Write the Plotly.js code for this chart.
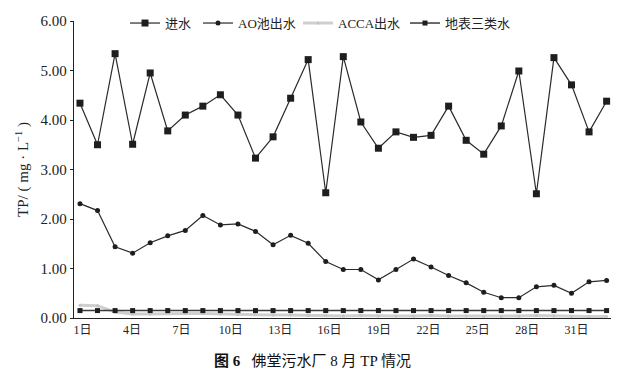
<!DOCTYPE html>
<html>
<head>
<meta charset="utf-8">
<script src="https://cdn.plot.ly/plotly-3.0.1.min.js"></script>
<style>html,body{margin:0;padding:0;background:#fff;}#chart{width:643px;height:376px;}</style>
</head>
<body>
<div id="chart"></div>
<script>
// Days of August (1..31)
const days = Array.from({length: 31}, (_, i) => i + 1);

// 进水 (influent TP, mg/L)
const influent = [4.34, 3.50, 5.34, 3.51, 4.95, 3.78, 4.10, 4.28, 4.51, 4.10, 3.23, 3.66, 4.44,
  5.22, 2.53, 5.28, 3.96, 3.43, 3.76, 3.65, 3.69, 4.28, 3.59, 3.31, 3.88, 4.99, 2.51, 5.26, 4.71, 3.76, 4.38];

// AO池出水
const aoEffluent = [2.31, 2.17, 1.44, 1.31, 1.52, 1.66, 1.77, 2.07, 1.88, 1.90, 1.75, 1.48, 1.67,
  1.51, 1.14, 0.98, 0.98, 0.77, 0.98, 1.19, 1.03, 0.86, 0.71, 0.52, 0.41, 0.41, 0.63, 0.66, 0.50, 0.73, 0.76];

// ACCA出水
const accaEffluent = [0.26, 0.25, 0.12, 0.08, 0.08, 0.09, 0.09, 0.09, 0.08, 0.07, 0.07, 0.06, 0.06,
  0.05, 0.05, 0.04, 0.05, 0.04, 0.04, 0.04, 0.05, 0.04, 0.04, 0.03, 0.03, 0.04, 0.05, 0.04, 0.03, 0.03, 0.03];

// 地表三类水 (surface water class III limit)
const surfaceIII = days.map(() => 0.15);

// x tick labels
const tickDays = [1, 4, 7, 10, 13, 16, 19, 22, 25, 28, 31];
const tickLabels = tickDays.map(d => d + '日');
const yTicks = [0, 1, 2, 3, 4, 5, 6];
const yTickLabels = ['0.00', '1.00', '2.00', '3.00', '4.00', '5.00', '6.00'];

const FONT = '"Liberation Serif", "Times New Roman", "Noto Sans CJK SC", serif';

const traces = [
  {x: days, y: influent, name: '进水', mode: 'lines+markers', legend: 'legend',
   line: {color: '#2a2a2a', width: 1.2}, marker: {symbol: 'square', size: 7, color: '#1e1e1e'}},
  {x: days, y: aoEffluent, name: 'AO池出水', mode: 'lines+markers', legend: 'legend2',
   line: {color: '#2a2a2a', width: 1.2}, marker: {symbol: 'circle', size: 5, color: '#1e1e1e'}},
  {x: days, y: accaEffluent, name: 'ACCA出水', mode: 'lines+markers', legend: 'legend3',
   line: {color: '#cfcfcf', width: 3}, marker: {symbol: 'circle', size: 3, color: '#c4c4c4'}},
  {x: days, y: surfaceIII, name: '地表三类水', mode: 'lines+markers', legend: 'legend4',
   line: {color: '#3a3a3a', width: 1.5}, marker: {symbol: 'square', size: 5, color: '#1e1e1e'}}
];

// Reference places its day labels slightly compressed relative to the points
const tickPos = tickDays.map(d => 1.15 + (d - 1) * 0.938);

const PL = 74, PW = 537;
function leg(px) {
  return {orientation: 'h', xref: 'paper', yref: 'paper', x: (px - PL) / PW, y: 0.993,
    xanchor: 'left', yanchor: 'middle', bgcolor: 'rgba(0,0,0,0)', borderwidth: 0,
    font: {family: FONT, size: 13, color: '#222'}, itemwidth: 30};
}

const layout = {
  width: 643, height: 376,
  margin: {l: PL, r: 643 - PL - PW, t: 21, b: 58, autoexpand: false},
  paper_bgcolor: '#fff', plot_bgcolor: '#fff',
  font: {family: FONT, color: '#222'},
  showlegend: true,
  legend: leg(125),
  legend2: leg(198),
  legend3: leg(298),
  legend4: leg(405),
  xaxis: {
    range: [0.66, 31.25], showgrid: false, zeroline: false,
    showline: true, linecolor: '#222', linewidth: 1.2,
    tickmode: 'array', tickvals: tickPos, ticktext: tickLabels,
    ticks: '', tickfont: {family: FONT, size: 12, color: '#222'}
  },
  yaxis: {
    range: [0, 6], showgrid: false, zeroline: false,
    showline: true, linecolor: '#222', linewidth: 1.2,
    tickmode: 'array', tickvals: yTicks, ticktext: yTickLabels,
    ticks: 'outside', ticklen: 3, tickcolor: '#222',
    tickfont: {family: FONT, size: 15, color: '#222'},
    title: {text: 'TP/ ( mg · L<sup>−1</sup> )', font: {family: FONT, size: 15, color: '#222'}, standoff: 8}
  },
  annotations: [{
    xref: 'paper', yref: 'paper', x: (312 - PL) / PW, y: -(361 - 318) / 297,
    xanchor: 'center', yanchor: 'middle', showarrow: false,
    text: '<b>图 6</b>   佛堂污水厂 8 月 TP 情况',
    font: {family: '"Liberation Serif", "Noto Sans CJK SC", serif', size: 15, color: '#111'}
  }]
};

Plotly.newPlot('chart', traces, layout, {displayModeBar: false, staticPlot: true});
</script>
</body>
</html>
